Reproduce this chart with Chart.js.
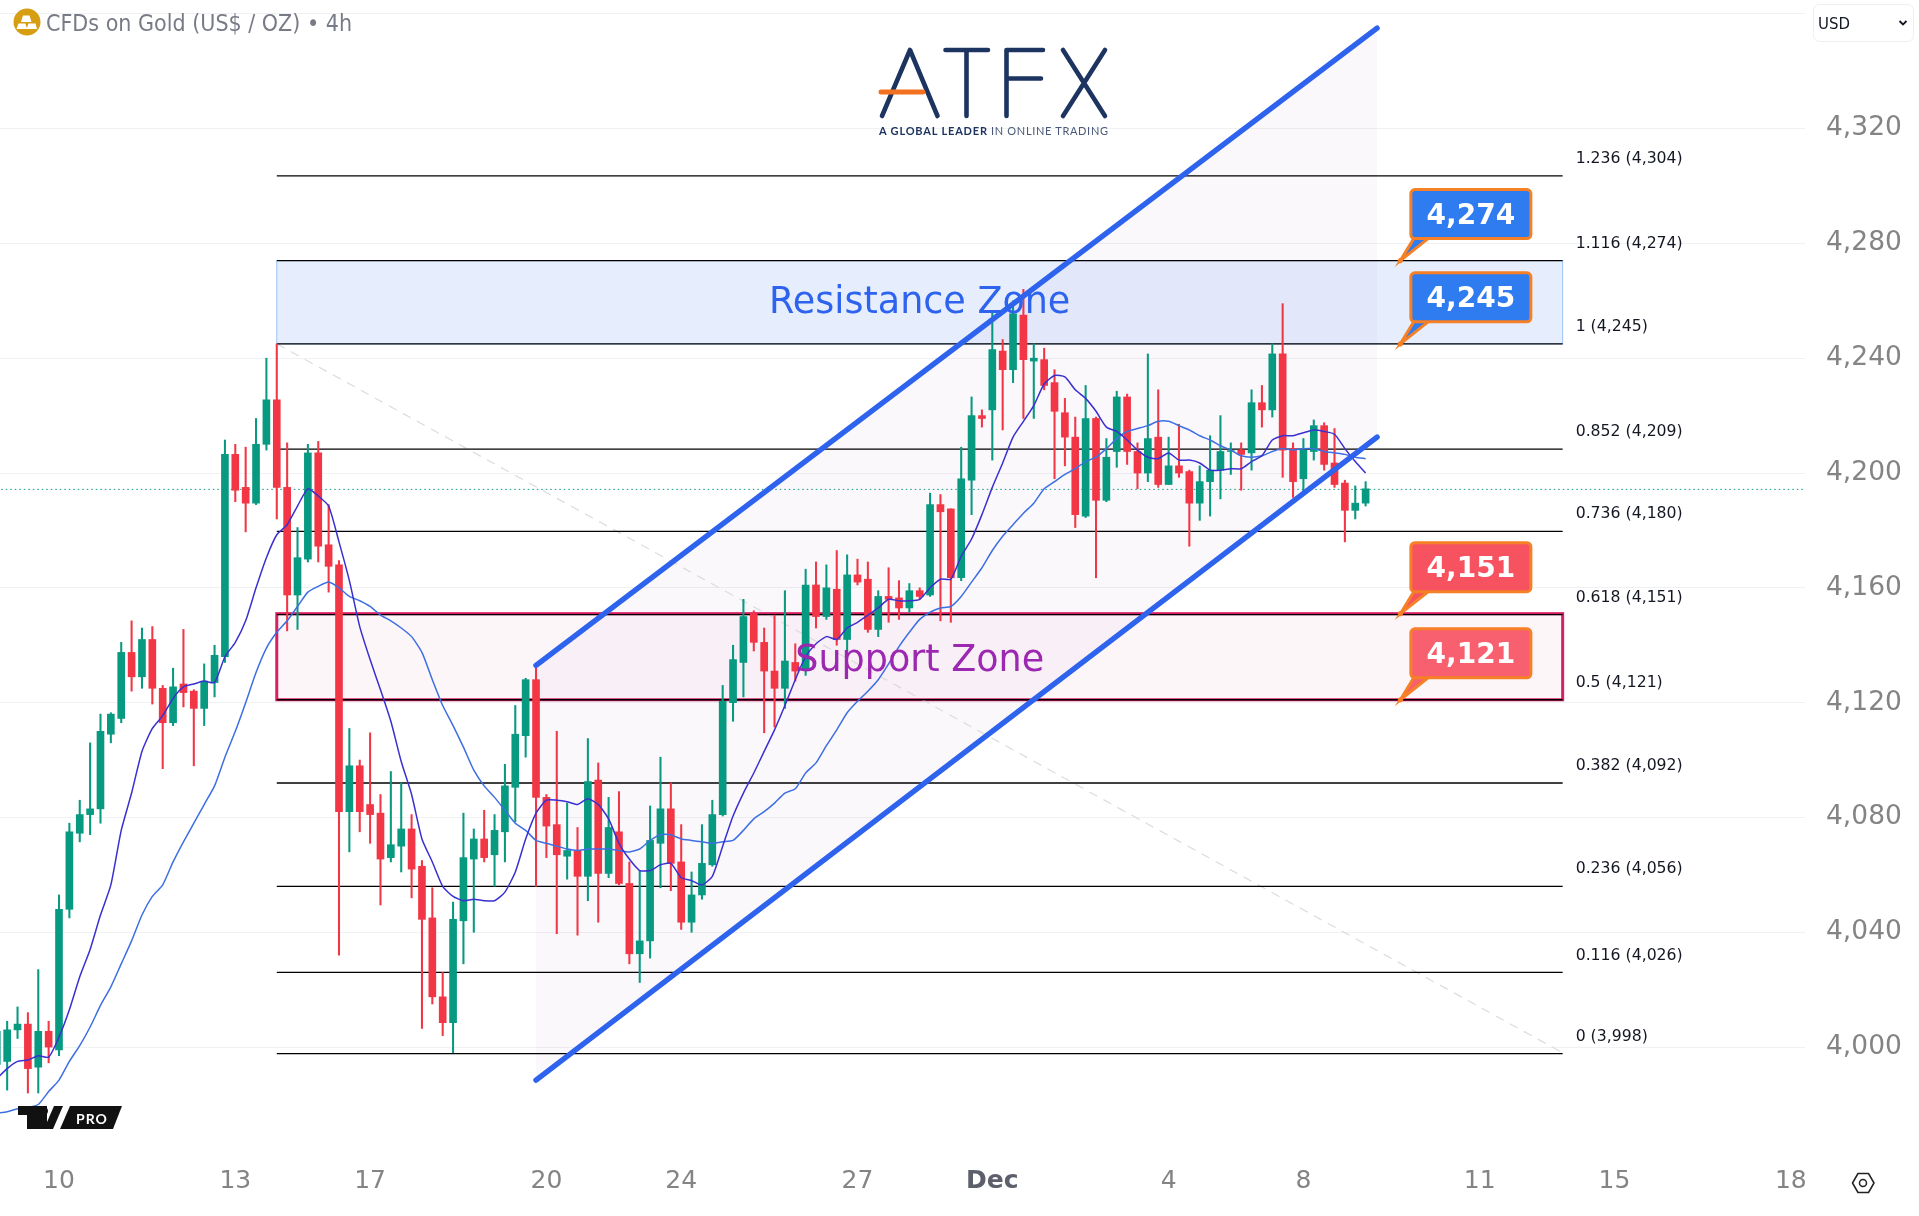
<!DOCTYPE html>
<html>
<head>
<meta charset="utf-8">
<title>CFDs on Gold</title>
<script src="https://cdn.jsdelivr.net/npm/chart.js@4/dist/chart.umd.min.js"></script>
<style>
  html, body { margin: 0; padding: 0; background: #fff; }
  #wrap { position: relative; width: 1919px; height: 1216px; overflow: hidden; }
  #goldChart { position: absolute; left: 0; top: 0; }
  #overlay { position: absolute; left: 0; top: 0; pointer-events: none; }
</style>
</head>
<body>
<div id="wrap">
  <canvas id="goldChart" width="1919" height="1216"></canvas>
  <svg id="overlay" width="1919" height="1216" xmlns="http://www.w3.org/2000/svg">
    <!-- symbol header -->
    <circle cx="27" cy="22" r="13.5" fill="#d69e13"/>
    <path d="M23 15.500h6.500l2 6.500h-10.500zM18.500 23.500h7l1.500 5.500h-10.500zM28.500 23.500h7l1.500 5.500h-10.500z" fill="#fff"/>
    <text x="46" y="31" font-family="DejaVu Sans" font-size="23" fill="#787b86" textLength="306" lengthAdjust="spacingAndGlyphs">CFDs on Gold (US$ / OZ) • 4h</text>
    <!-- currency box -->
    <rect x="1813.500" y="4.500" width="100" height="37" rx="6" fill="#fff" stroke="#eeeeee"/>
    <text x="1818" y="29" font-family="DejaVu Sans" font-size="16" fill="#131722" textLength="32" lengthAdjust="spacingAndGlyphs">USD</text>
    <path d="M1899.500 21l3.500 3.500 3.500-3.500" fill="none" stroke="#131722" stroke-width="1.800"/>
    <!-- ATFX logo -->
    <g fill="none" stroke="#1d3461" stroke-width="4.600" stroke-linecap="round" stroke-linejoin="round">
      <path d="M882 116L910 50L937.500 116"/>
      <path d="M945.500 50H988M966.500 50V116"/>
      <path d="M1006.500 116V50H1043M1006.500 78.500H1041"/>
      <path d="M1063 50L1105 116M1105 50L1063 116"/>
    </g>
    <path d="M881 92H923" stroke="#f37021" stroke-width="5" stroke-linecap="round"/>
    <text x="879" y="135" font-family="Lato" font-size="11" font-weight="700" fill="#1d3461" textLength="108" lengthAdjust="spacing">A GLOBAL LEADER</text>
    <text x="991" y="135" font-family="Lato" font-size="11" fill="#4a5a78" textLength="117" lengthAdjust="spacing">IN ONLINE TRADING</text>
    <!-- TV PRO mark -->
    <path d="M18 1106H47V1129H27V1115H18z" fill="#111"/>
    <circle cx="43.500" cy="1111" r="4.500" fill="#111"/>
    <path d="M54 1106H63L53 1129H44z" fill="#111"/>
    <path d="M70 1106H122L113 1129H60z" fill="#111"/>
    <text x="76" y="1123.500" font-family="Lato" font-size="14" font-weight="700" fill="#fff" letter-spacing="1">PRO</text>
    <!-- gear -->
    <path d="M1852.500 1183l5.500-9.500h10.500l5.500 9.500-5.500 9.500h-10.500z" fill="none" stroke="#222" stroke-width="1.500" stroke-linejoin="round"/>
    <circle cx="1863" cy="1183" r="3.500" fill="none" stroke="#222" stroke-width="1.500"/>
  </svg>
</div>
<script>
// bar numbers run from the first visible candle, 0 is the candle under the "10" label
const firstBar = -6;

const opens = [3994,3995,4006,4008,3993,4005.5,
  3999,4048,4074.5,4081,4083,4109,4114.5,4137.5,4129,4142,
  4125,4113,4126.5,4124,4118,4127,4136,4206.5,4195,4189.5,
  4210,4225.5,4195,4157.5,4170,4207,4175,4168,4082,4098,
  4084.5,4081.5,4066,4070,4076,4063,4045,4017.5,4008.5,4044,
  4065.5,4072.5,4067,4075,4090.5,4108.5,4128,4087,4077.5,4066.5,
  4068.5,4059.5,4093,4060.5,4075,4057,4032.5,4037,4071,4083,
  4064.5,4043.5,4053,4063.5,4081,4120,4134,4151,4141,4131,
  4125,4134,4131.5,4161,4150,4159.5,4142,4164.5,4163,4145.5,
  4157,4156.5,4153,4159,4157.5,4189,4187.5,4163.5,4197.5,4220,
  4222,4242.5,4236,4255,4239,4239.5,4231.5,4221,4212.5,4185,
  4219,4190.5,4207.5,4226.5,4207.5,4200,4212.5,4196,4202.5,4200.5,
  4189.5,4197,4201,4207.5,4208,4207,4224.5,4222,4241.5,4208.5,
  4198,4207.5,4216.5,4203.5,4196.5,4187,4189.5];

const highs = [4010,4009,4014,4012,4027,4009,
  4053,4078,4086,4106,4116,4116.5,4141,4148.5,4146,4146.5,
  4126,4132,4145.5,4124.5,4133.5,4140,4211.5,4210,4209,4219,
  4240,4245,4210.5,4181,4210,4211,4189,4169.5,4111,4100,
  4109.5,4088,4096,4092,4081,4065,4055.5,4026,4050.5,4081.5,
  4076,4082.5,4081,4098.5,4119,4128.5,4132.5,4088,4110,4085,
  4076.5,4107.5,4099,4087,4089,4064.5,4061.5,4084,4101,4092,
  4077.5,4061,4077.5,4086,4126,4140,4156,4152,4146,4150.5,
  4159,4140.5,4166.5,4169,4168,4173,4171.5,4170,4169,4159,
  4167,4162.5,4161.5,4160,4193,4192.5,4187.5,4209,4226.5,4222,
  4256.5,4246.5,4260,4264,4245,4243.5,4236,4226,4219.5,4230.5,
  4219.5,4212,4228.5,4227.5,4210.5,4241.5,4229,4212.5,4217,4201,
  4202.5,4213,4220,4210.5,4210.5,4229,4230.5,4245,4259,4210.5,
  4212,4218.5,4217.5,4215.5,4197.5,4195.5,4197];

const lows = [3980,3985,4003,3984,3984,3994.5,
  3997,4045,4071.5,4074,4078,4106,4113,4124,4125,4119.5,
  4097,4112,4118.5,4098,4112,4122,4134,4190,4179.5,4189,
  4208,4184,4145,4145.5,4169,4169,4158.5,4032,4068,4075,
  4071,4049.5,4064.5,4061,4052,4006.5,4015,4004,3998,4029,
  4040,4064.5,4056,4064.5,4078.5,4101,4056,4066,4039.5,4058.5,
  4039,4051,4043.5,4059,4056.5,4029,4022.5,4031,4055.5,4054.5,
  4041,4040,4051.5,4063,4080.5,4113.5,4122,4138,4109.5,4111.5,
  4118,4127.5,4129.5,4146,4149,4140,4137,4161,4144.5,4143,
  4148,4149,4151.5,4156,4157,4148.5,4148,4162.5,4185.5,4216,
  4204.5,4215,4231.5,4219,4219,4229,4198,4202.5,4181,4184.5,
  4163.5,4190,4202,4203,4194.5,4197,4195,4196,4198.5,4174.5,
  4183.5,4185,4191,4199.5,4194,4201,4216,4219.5,4198.5,4191.5,
  4193.5,4204.5,4201,4195,4176,4184,4188.5];

const closes = [4005.5,4006,4008,3992.5,4005.5,4000,
  4048,4075,4081,4083,4110,4116,4137.5,4129,4142,4125,
  4113,4125.5,4123.5,4118,4127.5,4136.5,4206.5,4194,4189.5,4210,
  4225.5,4195,4157.5,4170.5,4207,4174.5,4167.5,4082,4098,4082,
  4081,4065.5,4070.5,4076,4062,4044.5,4017.5,4008.5,4044.5,4066,
  4072.5,4066,4075.5,4091,4109,4128,4087,4077,4067,4068.5,
  4059.5,4092.5,4060.5,4076.5,4057,4032.5,4037,4072,4083,4064,
  4043.5,4053,4064,4081,4120.5,4135,4150,4141,4131,4125,
  4134.5,4131,4161,4150,4160,4142,4164.5,4162,4145.5,4157,
  4156,4153,4159,4157,4189,4186.5,4163.5,4198,4220,4219,
  4243,4236,4255.5,4239.5,4240,4230.5,4221.5,4212.5,4185.5,4219,
  4190.5,4205.5,4226.5,4207.5,4200,4212,4196,4202.5,4200,4189.5,
  4197,4201,4207.5,4207.8,4206.5,4224.5,4222,4241.5,4208,4197,
  4208,4216.5,4203,4196,4187,4189.5,4194.5];

const fastMa = [3989,3992.5,3995,3995.5,3997,3996.5,
  4003.5,4013,4024.5,4034,4046,4056.5,4075.5,4088.5,4103,4111,
  4115.5,4121.5,4125.5,4126.5,4127.5,4127,4136,4141,4148.5,4160,
  4170.5,4178.5,4182,4188.5,4194.5,4192,4188.5,4176,4162.5,4146.5,
  4135,4124.5,4113.5,4099.5,4088,4072.5,4064.5,4056,4052.5,4051,
  4051.5,4051,4051,4054,4061,4072.5,4081.5,4086,4086,4085.5,
  4084.5,4086.5,4084.5,4079.5,4071,4065.5,4061.5,4061.5,4063.5,4064,
  4059,4058,4056.5,4059.5,4070,4080.5,4088.5,4095.5,4103,4110.5,
  4119,4128,4136,4140.5,4143,4142,4146,4148,4150.5,4153,
  4156,4155.5,4155.5,4156,4160,4163,4163,4171,4177,4185.5,
  4195,4203.5,4212.5,4218,4223.5,4231,4234,4233.5,4229,4226,
  4221.5,4216,4214.5,4211.5,4208,4205.5,4205,4207,4204.5,4204.5,
  4203.5,4201,4201,4201.5,4201.5,4204,4206,4211.5,4213,4213,
  4214,4215,4214.5,4213.5,4208.5,4204,4200];

const slowMa = [3977,3977.5,3978.5,3979,3980,3984.5,
  3988.5,3995,4000.5,4007,4014.5,4021,4029,4037,4046,4052.5,
  4056.5,4064.5,4071.5,4078,4084.5,4091,4101,4110,4120,4130.5,
  4139,4144.5,4148.5,4153.5,4158.5,4160.5,4162,4160,4157,4155.5,
  4153.5,4150.5,4148.5,4146,4143,4137.5,4128,4119,4112,4104.5,
  4096.5,4091,4087,4082.5,4078,4075.5,4072,4071,4070,4069,
  4068.5,4069,4069,4069,4068.5,4068,4069,4072,4074,4074,
  4072.5,4072,4071.5,4071,4071.5,4072,4075.5,4079.5,4082,4085,
  4088.5,4090,4095.5,4099,4105,4110.5,4116.5,4120.5,4124,4128,
  4133.5,4139.5,4144.5,4149,4151.5,4153,4153.5,4157,4162,4167,
  4173,4178,4182,4186,4189.5,4194.5,4197,4199.5,4201.5,4204,
  4205.5,4208.5,4212,4214.5,4215.5,4216.5,4218,4218,4216.5,4215,
  4213,4211.5,4209.5,4208,4206,4205.5,4206,4207.5,4208.5,4208,
  4208.5,4208.5,4207.5,4207,4206.5,4205.5,4205];

const fibRatios = ['1.236','1.116','1','0.852','0.736','0.618','0.5','0.382','0.236','0.116','0'];
const fibPrices = [4304,4274,4245,4209,4180,4151,4121,4092,4056,4026,3998];
const fibLevels = [4303.5,4274,4245,4208.3,4179.7,4150.7,4121,4092,4056,4026,3997.7];
const fibBars = [21, 145];

const calloutPrices = [4274,4245,4151,4121];
const calloutFills = ['#2f7bf0','#2f7bf0','#f7525f','#f9606f'];
const calloutBar = 129.35;

const channelBars = [46, 127.1];
const channelUpper = [4133, 4355];
const channelLower = [3988.5, 4212.5];

const resistanceZone = [4245, 4274];
const supportZone = [4121, 4151];
const lastPrice = 4194.3;

const yTicks = [4000,4040,4080,4120,4160,4200,4240,4280,4320,4360];
const yLabelTop = 4320;
const xTicks = [0,17,30,47,60,77,90,107,120,137,150,167];
const xLabels = ['10','13','17','20','24','27','Dec','4','8','11','15','18'];

const GREEN = '#089981';
const RED = '#f23645';
const AXIS_FONT = 'DejaVu Sans';

const barNumbers = opens.map((_, i) => firstBar + i);
const isUp = opens.map((o, i) => closes[i] >= o);
const candleColors = isUp.map(up => up ? GREEN : RED);

function pts(bars, values) {
  return bars.map((b, i) => ({ x: b, y: values[i] }));
}

function plainLine(data, color, width, order, extra) {
  return Object.assign({
    type: 'line', data: data, borderColor: color, borderWidth: width,
    pointRadius: 0, order: order, fill: false
  }, extra || {});
}

const datasets = [
  // channel fill goes under the candles, the thick lines go over them
  plainLine(pts(channelBars, channelUpper), 'rgba(0,0,0,0)', 0, 60, { fill: '+1', backgroundColor: 'rgba(130,30,170,0.032)' }),
  plainLine(pts(channelBars, channelLower), 'rgba(0,0,0,0)', 0, 61),
  plainLine(pts([21, 145], [4245, 3998]), '#dcdcdc', 1.2, 55, { borderDash: [9, 7] }),
  plainLine(pts([-6, 169], [lastPrice, lastPrice]), GREEN, 1, 50, { borderDash: [1.5, 3] })
];

fibLevels.forEach(level => {
  datasets.push(plainLine(pts(fibBars, [level, level]), '#000000', 1.3, 40));
});

datasets.push({
  type: 'bar', order: 30, grouped: false, barThickness: 1.4, borderWidth: 0,
  data: barNumbers.map((b, i) => ({ x: b, y: [lows[i], highs[i]] })),
  backgroundColor: candleColors
});
datasets.push({
  type: 'bar', order: 20, grouped: false, barThickness: 7, borderWidth: 0,
  data: barNumbers.map((b, i) => ({ x: b, y: [opens[i], closes[i]] })),
  backgroundColor: candleColors
});
datasets.push(plainLine(pts(barNumbers, slowMa), '#3d6fe3', 1.5, 10, { tension: 0.2 }));
datasets.push(plainLine(pts(barNumbers, fastMa), '#3a2fcf', 1.5, 9, { tension: 0.2 }));
datasets.push(plainLine(pts(channelBars, channelUpper), '#2e63ee', 5.5, 5, { borderCapStyle: 'round' }));
datasets.push(plainLine(pts(channelBars, channelLower), '#2e63ee', 5.5, 5, { borderCapStyle: 'round' }));

// zones sit under the datasets
const zonePlugin = {
  id: 'zones',
  beforeDatasetsDraw(chart) {
    const { ctx, scales: { x, y } } = chart;
    const left = x.getPixelForValue(fibBars[0]);
    const right = x.getPixelForValue(fibBars[1]);
    ctx.save();

    let top = y.getPixelForValue(resistanceZone[1]);
    let bottom = y.getPixelForValue(resistanceZone[0]);
    ctx.fillStyle = '#e6eefd';
    ctx.fillRect(left, top, right - left, bottom - top);
    ctx.strokeStyle = '#9cc5f7';
    ctx.lineWidth = 1;
    ctx.strokeRect(left, top, right - left, bottom - top);

    top = y.getPixelForValue(supportZone[1]);
    bottom = y.getPixelForValue(supportZone[0]);
    ctx.fillStyle = '#fdf6f9';
    ctx.fillRect(left, top, right - left, bottom - top);
    ctx.strokeStyle = '#d81f63';
    ctx.lineWidth = 3;
    ctx.strokeRect(left, top, right - left, bottom - top);
    ctx.restore();
  }
};

function roundRect(ctx, x, y, w, h, r) {
  ctx.beginPath();
  ctx.roundRect(x, y, w, h, r);
}

// fib labels, zone titles and price callouts
const notesPlugin = {
  id: 'notes',
  afterDatasetsDraw(chart) {
    const { ctx, scales: { x, y } } = chart;
    ctx.save();

    ctx.textBaseline = 'middle';
    ctx.textAlign = 'left';
    ctx.font = '15.700px "DejaVu Sans"';
    ctx.fillStyle = '#131722';
    const labelX = x.getPixelForValue(fibBars[1]) + 13;
    fibLevels.forEach((level, i) => {
      const text = fibRatios[i] + ' (' + fibPrices[i].toLocaleString('en-US') + ')';
      ctx.fillText(text, labelX, y.getPixelForValue(level) - 17);
    });

    ctx.textAlign = 'center';
    ctx.font = '36.500px "DejaVu Sans"';
    ctx.fillStyle = '#2e63ee';
    ctx.fillText('Resistance Zone', x.getPixelForValue(83), y.getPixelForValue(4259));
    ctx.fillStyle = '#9c27b0';
    ctx.fillText('Support Zone', x.getPixelForValue(83), y.getPixelForValue(4134.5));

    calloutPrices.forEach((price, i) => {
      const tipX = x.getPixelForValue(calloutBar);
      const tipY = y.getPixelForValue(price);
      ctx.lineWidth = 3;
      ctx.strokeStyle = '#f58025';
      ctx.fillStyle = calloutFills[i];
      // tail
      ctx.beginPath();
      ctx.moveTo(tipX, tipY);
      ctx.lineTo(tipX + 14, tipY - 23);
      ctx.lineTo(tipX + 29, tipY - 23);
      ctx.closePath();
      ctx.fill();
      ctx.stroke();
      // box
      roundRect(ctx, tipX + 10.5, tipY - 71, 120, 49, 4);
      ctx.fill();
      ctx.stroke();
      // dot
      ctx.beginPath();
      ctx.fillStyle = '#f58025';
      ctx.arc(tipX, tipY, 2.6, 0, Math.PI * 2);
      ctx.fill();
      ctx.fillStyle = '#ffffff';
      ctx.font = 'bold 28px "DejaVu Sans"';
      ctx.fillText(price.toLocaleString('en-US'), tipX + 70.5, tipY - 44);
    });
    ctx.restore();
  }
};

new Chart(document.getElementById('goldChart'), {
  type: 'bar',
  data: { datasets: datasets },
  plugins: [zonePlugin, notesPlugin],
  options: {
    responsive: false,
    devicePixelRatio: 1,
    animation: false,
    events: [],
    layout: { padding: 0 },
    plugins: { legend: { display: false }, tooltip: { enabled: false } },
    scales: {
      x: {
        type: 'linear',
        offset: false,
        min: -5.69,
        max: 168.37,
        grid: { display: false, offset: false, drawTicks: false },
        border: { display: false },
        afterBuildTicks: axis => { axis.ticks = xTicks.map(v => ({ value: v })); },
        afterFit: axis => { axis.height = 61; },
        ticks: {
          autoSkip: false,
          maxRotation: 0,
          padding: 11,
          color: ctx => ctx.tick.value === 90 ? '#5d606b' : '#848484',
          font: ctx => ({ family: AXIS_FONT, size: 25, weight: ctx.tick && ctx.tick.value === 90 ? 'bold' : 'normal' }),
          callback: value => xLabels[xTicks.indexOf(value)]
        }
      },
      y: {
        type: 'linear',
        position: 'right',
        min: 3962.4,
        max: 4364.8,
        grid: { color: '#f0f1f3', lineWidth: 1, drawTicks: false },
        border: { display: false },
        afterBuildTicks: axis => { axis.ticks = yTicks.map(v => ({ value: v })); },
        afterFit: axis => { axis.width = 114; axis.paddingTop = 0; axis.paddingBottom = 0; },
        ticks: {
          padding: 21,
          color: '#848484',
          font: { family: AXIS_FONT, size: 26.5 },
          callback: value => value > yLabelTop ? '' : value.toLocaleString('en-US')
        }
      }
    }
  }
});
</script>
</body>
</html>
